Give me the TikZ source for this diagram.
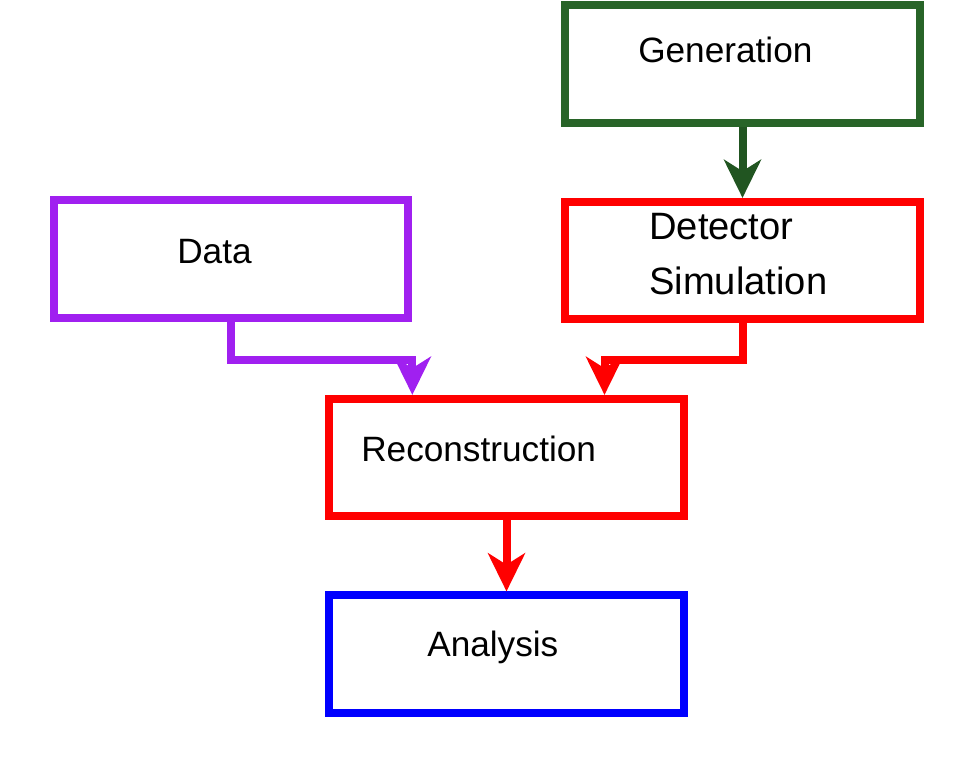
\documentclass[tikz,border=0pt]{standalone}
\usepackage{fontspec}
\setmainfont{Liberation Sans}
\usetikzlibrary{positioning,calc,arrows.meta}
\definecolor{genframe}{HTML}{286428}
\definecolor{genflow}{HTML}{215521}
\definecolor{dataframe}{HTML}{A020F0}
\definecolor{simframe}{HTML}{FF0000}
\definecolor{anaframe}{HTML}{0000FF}

\tikzset{
  stagebox/.style={draw=#1,line width=6pt,minimum width=266pt,minimum height=88pt,
                   inner sep=0pt,fill=white},
  stagetext/.style={anchor=base west,inner sep=0pt,align=left,
                    font=\fontsize{#1}{41.25}\selectfont},
  flow/.style={draw=#1,line width=6pt,
               -{Stealth[length=29pt,width=28.5pt,inset=9pt,line width=0pt]}}
}

\begin{document}
\begin{tikzpicture}[x=0.75pt,y=-0.75pt]
  \useasboundingbox (0,0) rectangle (974,767);
  \foreach \n/\x/\y/\c/\tx/\ty/\fs/\txt in {
    gen/742.5/64/genframe/638/63/26.4/{Generation},
    det/742.5/260.5/simframe/649/294/28.6/{Detector\\Simulation},
    data/231/259/dataframe/177/263/26.4/{Data},
    reco/506.5/457.5/simframe/361/461/26.4/{Reconstruction},
    ana/506.5/654/anaframe/427/656/26.4/{Analysis}} {
    \node[stagebox=\c] (\n) at (\x,\y) {};
    \node[stagetext=\fs] (\n text) at (\tx,\ty) {\txt};
  }
  \draw[flow=genflow] (gen.south) -- (det.north);
  \draw[flow=dataframe] (data.south) -- ++(0,38) -| (reco.north -| data.east);
  \draw[flow=simframe] (det.south) -- ++(0,37) -| ($(reco.north)+(98,0)$);
  \draw[flow=simframe] (reco.south) -- (ana.north);
\end{tikzpicture}
\end{document}
